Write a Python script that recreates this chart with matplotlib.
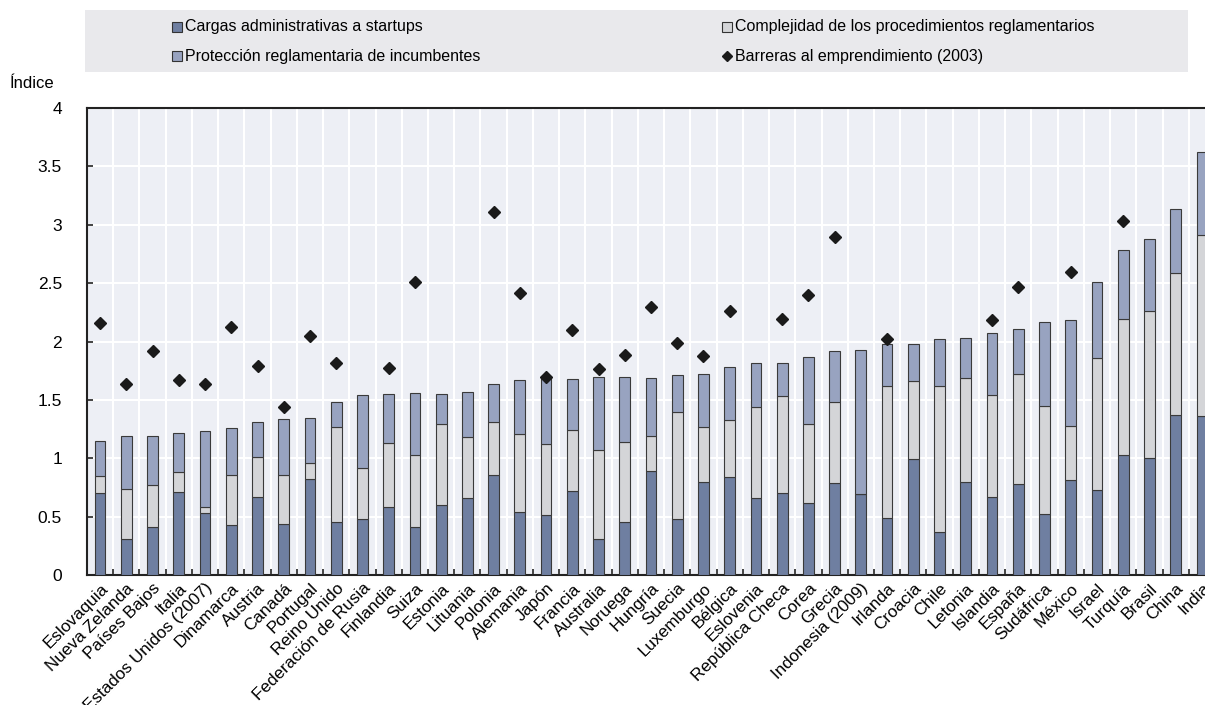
import numpy as np
import matplotlib
matplotlib.use("Agg")
import matplotlib.pyplot as plt
from matplotlib.patches import Rectangle
from matplotlib.lines import Line2D

plt.rcParams['font.family'] = ['Liberation Sans Narrow', 'Liberation Sans', 'DejaVu Sans']

countries = ["Eslovaquia", "Nueva Zelanda", "Países Bajos", "Italia", "Estados Unidos (2007)",
             "Dinamarca", "Austria", "Canadá", "Portugal", "Reino Unido", "Federación de Rusia",
             "Finlandia", "Suiza", "Estonia", "Lituania", "Polonia", "Alemania", "Japón", "Francia",
             "Australia", "Noruega", "Hungría", "Suecia", "Luxemburgo", "Bélgica", "Eslovenia",
             "República Checa", "Corea", "Grecia", "Indonesia (2009)", "Irlanda", "Croacia", "Chile",
             "Letonia", "Islandia", "España", "Sudáfrica", "México", "Israel", "Turquía", "Brasil",
             "China", "India"]

cargas = [0.70, 0.31, 0.41, 0.71, 0.53, 0.43, 0.67, 0.44, 0.82, 0.45, 0.48, 0.58, 0.41, 0.60,
          0.66, 0.86, 0.54, 0.51, 0.72, 0.31, 0.45, 0.89, 0.48, 0.80, 0.84, 0.66, 0.70, 0.62,
          0.79, 0.69, 0.49, 0.99, 0.37, 0.80, 0.67, 0.78, 0.52, 0.81, 0.73, 1.03, 1.00, 1.37, 1.36]

complejidad = [0.15, 0.43, 0.36, 0.17, 0.05, 0.43, 0.34, 0.42, 0.14, 0.82, 0.44, 0.55, 0.62, 0.69,
               0.52, 0.45, 0.67, 0.61, 0.52, 0.76, 0.69, 0.30, 0.92, 0.47, 0.49, 0.78, 0.83, 0.67,
               0.69, 0.00, 1.13, 0.67, 1.25, 0.89, 0.87, 0.945, 0.925, 0.47, 1.126, 1.164, 1.264,
               1.218, 1.552]

proteccion = [0.30, 0.45, 0.42, 0.34, 0.65, 0.40, 0.30, 0.48, 0.385, 0.216, 0.62, 0.42, 0.53, 0.26,
              0.39, 0.325, 0.46, 0.57, 0.44, 0.63, 0.555, 0.50, 0.31, 0.45, 0.45, 0.376, 0.287,
              0.58, 0.437, 1.235, 0.356, 0.322, 0.402, 0.344, 0.535, 0.379, 0.719, 0.905, 0.65,
              0.594, 0.615, 0.546, 0.707]

barreras_2003 = [2.155, 1.635, 1.92, 1.672, 1.638, 2.126, 1.787, 1.437, 2.049, 1.819, np.nan,
                 1.773, 2.509, np.nan, np.nan, 3.11, 2.417, 1.695, 2.095, 1.761, 1.882, 2.299,
                 1.986, 1.874, 2.261, np.nan, 2.195, 2.402, 2.897, np.nan, 2.023, np.nan, np.nan,
                 np.nan, 2.184, 2.468, np.nan, 2.595, np.nan, 3.034, np.nan, np.nan, np.nan]

series_labels = ["Cargas administrativas a startups",
                 "Complejidad de los procedimientos reglamentarios",
                 "Protección reglamentaria de incumbentes",
                 "Barreras al emprendimiento (2003)"]
yticks = [0, 0.5, 1, 1.5, 2, 2.5, 3, 3.5, 4]
ytick_labels = ["0", "0.5", "1", "1.5", "2", "2.5", "3", "3.5", "4"]

c_dark = "#6f7fa1"
c_light = "#d4d5d8"
c_mid = "#98a3c0"
edge = "#3a3a3a"
W, H = 1205, 705

fig = plt.figure(figsize=(W / 100, H / 100), dpi=100)
ax = fig.add_axes([87 / W, (H - 575) / H, (1215 - 87) / W, (575 - 108) / H])
ax.set_facecolor("#edeff5")

x = np.arange(len(countries))
cargas_a = np.array(cargas)
compl_a = np.array(complejidad)
prot_a = np.array(proteccion)
bw = 0.41
ax.bar(x, cargas_a, bw, color=c_dark, edgecolor=edge, linewidth=0.8, zorder=3)
ax.bar(x, compl_a, bw, bottom=cargas_a, color=c_light, edgecolor=edge, linewidth=0.8, zorder=3)
ax.bar(x, prot_a, bw, bottom=cargas_a + compl_a, color=c_mid, edgecolor=edge, linewidth=0.8, zorder=3)
ax.plot(x, barreras_2003, linestyle="none", marker="D", color="#1a1a1a", markersize=6.2, zorder=4)

ax.set_xlim(-0.5, len(countries) - 0.5)
ax.set_ylim(0, 4)
ax.set_yticks(yticks)
ax.set_yticklabels(ytick_labels, fontsize=12.5)
ax.tick_params(axis="y", direction="in", length=4, width=1.2, color="#222222", pad=18)

# category boundaries: grid lines and inward ticks
bounds = np.arange(0.5, len(countries) - 0.5, 1)
ax.set_xticks(bounds, minor=True)
ax.set_xticks(x)
ax.set_xticklabels(countries, rotation=45, ha="right", rotation_mode="anchor", fontsize=12.3)
ax.tick_params(axis="x", which="major", length=0, pad=4)
ax.tick_params(axis="x", which="minor", direction="in", length=4, width=1.2, color="#222222")
ax.grid(True, axis="y", which="major", color="white", linewidth=1.5, zorder=0)
ax.grid(True, axis="x", which="minor", color="white", linewidth=1.5, zorder=0)
ax.set_axisbelow(True)

for s in ["left", "bottom", "top"]:
    ax.spines[s].set_color("#222222")
    ax.spines[s].set_linewidth(1.5)
ax.spines["right"].set_visible(False)

fig.text(10 / W, 1 - 83 / H, "Índice", fontsize=12, va="center", ha="left")

# legend
fig.add_artist(Rectangle((85 / W, 1 - 72 / H), (1188 - 85) / W, 62 / H,
                         transform=fig.transFigure, facecolor="#e9e9ec", edgecolor="none"))
entries = [(172, 27, "sq", c_dark, series_labels[0]),
           (722, 27, "sq", c_light, series_labels[1]),
           (172, 56, "sq", c_mid, series_labels[2]),
           (722, 56, "dm", "#1a1a1a", series_labels[3])]
for px, py, kind, col, lab in entries:
    if kind == "sq":
        fig.add_artist(Rectangle((px / W, 1 - (py + 5) / H), 10 / W, 10 / H,
                                 transform=fig.transFigure, facecolor=col,
                                 edgecolor="#333333", linewidth=0.8))
    else:
        fig.add_artist(Line2D([(px + 5) / W], [1 - py / H], marker="D", markersize=5,
                              color=col, transform=fig.transFigure, linestyle="none"))
    fig.text((px + 13) / W, 1 - py / H, lab, fontsize=11.5, va="center", ha="left")

fig.savefig("out.png", dpi=100)
